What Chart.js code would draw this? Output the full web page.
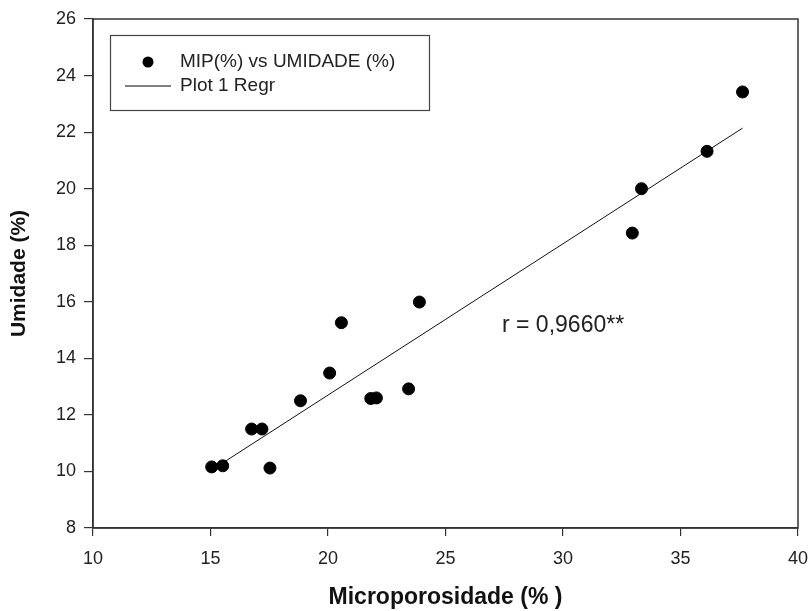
<!DOCTYPE html>
<html>
<head>
<meta charset="utf-8">
<script src="https://cdn.jsdelivr.net/npm/chart.js@4/dist/chart.umd.min.js"></script>
<style>
  html, body { margin: 0; padding: 0; background: #fff; }
  #wrap { width: 811px; height: 611px; }
</style>
</head>
<body>
<div id="wrap"><canvas id="myChart" width="811" height="611"></canvas></div>
<script>
// values
const micro = [15.05, 15.52, 16.75, 17.19, 17.53, 18.83, 20.07, 20.57, 21.82, 22.06, 23.43, 23.89, 32.95, 33.34, 36.13, 37.64];
const umidade = [10.16, 10.2, 11.5, 11.5, 10.12, 12.5, 13.48, 15.26, 12.58, 12.6, 12.92, 15.99, 18.43, 20.0, 21.32, 23.42];
const regrX = [15.05, 37.64];
const regrY = [10.05, 22.14];
const xTicks = [10, 15, 20, 25, 30, 35, 40];
const yTicks = [8, 10, 12, 14, 16, 18, 20, 22, 24, 26];

const FONT = 'Arial, "Liberation Sans", sans-serif';

const frame = {
    id: 'frame',
    afterDraw(chart) {
        const { ctx, chartArea: a } = chart;
        ctx.save();
        ctx.strokeStyle = '#333';
        ctx.lineWidth = 1.5;
        ctx.strokeRect(a.left, a.top, a.right - a.left, a.bottom - a.top);

        // legend box
        ctx.lineWidth = 1.2;
        ctx.strokeStyle = '#444';
        ctx.strokeRect(110.5, 35.5, 319, 75);
        ctx.fillStyle = '#000';
        ctx.beginPath();
        ctx.arc(148, 62, 5.5, 0, Math.PI * 2);
        ctx.fill();
        ctx.lineWidth = 1;
        ctx.strokeStyle = '#000';
        ctx.beginPath();
        ctx.moveTo(125, 86);
        ctx.lineTo(171, 86);
        ctx.stroke();
        ctx.fillStyle = '#222';
        ctx.font = '19px ' + FONT;
        ctx.textBaseline = 'middle';
        ctx.fillText(chart.data.datasets[0].label, 180, 62);
        ctx.fillText(chart.data.datasets[1].label, 180, 86);

        // correlation note
        ctx.font = '23px ' + FONT;
        ctx.fillText('r = 0,9660**', 502, 326);
        ctx.restore();
    }
};

new Chart(document.getElementById('myChart'), {
    type: 'scatter',
    data: {
        datasets: [{
            label: 'MIP(%) vs UMIDADE (%)',
            data: micro.map((x, i) => ({ x: x, y: umidade[i] })),
            backgroundColor: '#000',
            borderColor: '#000',
            pointRadius: 6,
            pointHoverRadius: 6
        }, {
            label: 'Plot 1 Regr',
            type: 'line',
            data: regrX.map((x, i) => ({ x: x, y: regrY[i] })),
            borderColor: '#111',
            borderWidth: 1,
            pointRadius: 0,
            fill: false
        }]
    },
    options: {
        responsive: false,
        animation: false,
        layout: { padding: { top: 19, right: 13, left: 0, bottom: 0 } },
        plugins: {
            legend: { display: false },
            tooltip: { enabled: false }
        },
        scales: {
            x: {
                type: 'linear',
                min: 10,
                max: 40,
                afterBuildTicks: s => { s.ticks = xTicks.map(v => ({ value: v })); },
                afterFit: s => { s.height = 83; s.paddingLeft = 0; s.paddingRight = 0; },
                grid: { drawOnChartArea: false, drawTicks: true, tickLength: 8, color: '#333', lineWidth: 1.2 },
                border: { display: true, color: '#333', width: 1.5 },
                ticks: { color: '#222', font: { size: 18, family: FONT }, padding: 12, maxRotation: 0 },
                title: {
                    display: true,
                    text: 'Microporosidade (% )',
                    color: '#111',
                    font: { size: 23, weight: 'bold', family: FONT },
                    padding: { top: 0, bottom: 0 }
                }
            },
            y: {
                min: 8,
                max: 26,
                afterBuildTicks: s => { s.ticks = yTicks.map(v => ({ value: v })); },
                afterFit: s => { s.width = 93; s.paddingTop = 0; s.paddingBottom = 0; },
                grid: { drawOnChartArea: false, drawTicks: true, tickLength: 9, color: '#333', lineWidth: 1.2 },
                border: { display: true, color: '#333', width: 1.5 },
                ticks: { color: '#222', font: { size: 18, family: FONT }, padding: 8 },
                title: {
                    display: true,
                    text: 'Umidade (%)',
                    color: '#111',
                    font: { size: 21, weight: 'bold', family: FONT },
                    padding: { top: 7, bottom: 0 }
                }
            }
        }
    },
    plugins: [frame]
});
</script>
</body>
</html>
